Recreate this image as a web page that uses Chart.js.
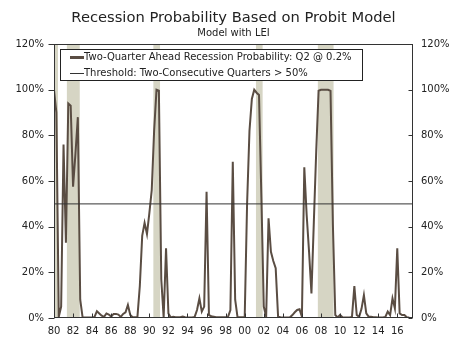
<!DOCTYPE html>
<html>
<head>
<meta charset="utf-8">
<script src="https://cdn.jsdelivr.net/npm/chart.js@4.4.1/dist/chart.umd.min.js"></script>
<style>
  html, body { margin: 0; padding: 0; background: #fff; }
  #chart { display: block; }
</style>
</head>
<body>
<canvas id="chart" width="450" height="337"></canvas>
<script>
  "use strict";

  // ---- Data ----------------------------------------------------------
  //
  // Quarterly recession probability (%), 1980Q1 .. 2017Q2.

  const firstYear = 1980;
  const probability = [
    100, 90, 0.5, 5,        // 1980
    76, 33, 94, 93,         // 1981
    57.5, 72, 88, 8,        // 1982
    0.3, 0.2, 0.2, 0.2,     // 1983
    0.2, 0.5, 3, 2,         // 1984
    1, 0.5, 2, 1.5,         // 1985
    0.6, 1.8, 1.8, 1.5,     // 1986
    0.5, 1.8, 2.5, 5.7,     // 1987
    1.3, 0.3, 0.3, 0.5,     // 1988
    14, 36, 41.7, 36.8,     // 1989
    46, 56, 82, 100,        // 1990
    99.6, 17, 0.3, 30.5,    // 1991
    2, 0.2, 0.5, 0.3,       // 1992
    0.3, 0.3, 0.6, 0.3,     // 1993
    0.2, 0.2, 0.2, 0.5,     // 1994
    3.5, 8.6, 2.8, 5,       // 1995
    55.3, 1.3, 0.8, 0.6,    // 1996
    0.3, 0.3, 0.3, 0.3,     // 1997
    0.3, 0.5, 3.5, 68.5,    // 1998
    8, 0.3, 0.3, 0.3,       // 1999
    0.3, 50, 82, 96,        // 2000
    100, 98.7, 97.7, 53,    // 2001
    5, 0.6, 43.7, 29,       // 2002
    25, 21.8, 0.6, 0.3,     // 2003
    0.2, 0.2, 0.2, 0.3,     // 2004
    1.3, 2.5, 3.5, 3.8,     // 2005
    0.6, 66, 45, 29,        // 2006
    10.8, 42, 73, 99.6,     // 2007
    100, 100, 100, 100,     // 2008
    99.5, 40.6, 1.3, 0.2,   // 2009
    1.3, 0.3, 0.2, 0.2,     // 2010
    0.2, 0.5, 14, 1.3,      // 2011
    0.5, 4, 10, 2,          // 2012
    0.6, 0.6, 0.3, 0.3,     // 2013
    0.2, 0.2, 0.2, 0.5,     // 2014
    2.8, 1.3, 8.6, 4.2,     // 2015
    30.5, 2, 1.3, 1.3,      // 2016
    0.3, 0.2,               // 2017
  ];

  const thresholdPct = 50;

  // Shaded recession periods, [start, end] in decimal years.
  const recessions = [
    [1980.0, 1980.42],
    [1981.35, 1982.7],
    [1990.42, 1991.12],
    [2001.18, 2001.88],
    [2007.67, 2009.32],
  ];

  const xTickYears = [1980, 1982, 1984, 1986, 1988, 1990, 1992, 1994, 1996, 1998,
                      2000, 2002, 2004, 2006, 2008, 2010, 2012, 2014, 2016];
  const yTickValues = [0, 20, 40, 60, 80, 100, 120];

  const seriesLabel = 'Two-Quarter Ahead Recession Probability: Q2 @ 0.2%';
  const thresholdLabel = 'Threshold: Two-Consecutive Quarters > 50%';
  const titleText = 'Recession Probability Based on Probit Model';
  const subtitleText = 'Model with LEI';

  // ---- Styling --------------------------------------------------------

  const X_MIN = 1980;
  const X_MAX = 2017.65;
  const FONT = '"DejaVu Sans", Verdana, sans-serif';
  const TEXT = '#222';
  const AXIS = '#333';
  const LINE = '#5a4d43';
  const SHADE = '#d6d5c4';

  // ---- Plugins ----------------------------------------------------------

  // Grey bands behind the data for each recession.
  const recessionBands = {
    id: 'recessionBands',
    beforeDatasetsDraw(chart) {
      const { ctx, chartArea: a, scales: { x } } = chart;
      ctx.save();
      ctx.fillStyle = SHADE;
      for (const [s, e] of recessions) {
        const x0 = x.getPixelForValue(s);
        const x1 = x.getPixelForValue(e);
        ctx.fillRect(x0, a.top, x1 - x0, a.bottom - a.top);
      }
      ctx.restore();
    },
  };

  // Box round the plot + the small tick marks (left ticks outside,
  // right and bottom ticks inside, as in the original).
  const frameAndTicks = {
    id: 'frameAndTicks',
    afterDatasetsDraw(chart) {
      const { ctx, chartArea: a, scales } = chart;
      const L = Math.round(a.left) + 0.5, R = Math.round(a.right) - 0.5;
      const T = Math.round(a.top) + 0.5, B = Math.round(a.bottom) - 0.5;
      ctx.save();
      ctx.strokeStyle = AXIS;
      ctx.lineWidth = 1;
      ctx.strokeRect(L, T, R - L, B - T);
      ctx.beginPath();
      for (const v of yTickValues) {
        const y = Math.round(scales.y.getPixelForValue(v)) + 0.5;
        ctx.moveTo(L - 6, y); ctx.lineTo(L, y);
        ctx.moveTo(R - 4, y); ctx.lineTo(R, y);
      }
      for (const v of xTickYears) {
        const x = Math.round(scales.x.getPixelForValue(v)) + 0.5;
        ctx.moveTo(x, B); ctx.lineTo(x, B - 4);
      }
      ctx.stroke();
      ctx.restore();
    },
  };

  // Bordered legend box inside the plot, top-left.
  const boxLegend = {
    id: 'boxLegend',
    afterDraw(chart) {
      const { ctx } = chart;
      const ds = chart.data.datasets;
      const box = { x: 60.5, y: 49.5, w: 302, h: 31 };
      ctx.save();
      ctx.fillStyle = '#fff';
      ctx.fillRect(box.x, box.y, box.w, box.h);
      ctx.strokeStyle = '#222';
      ctx.lineWidth = 1;
      ctx.strokeRect(box.x, box.y, box.w, box.h);
      ctx.font = '10px ' + FONT;
      ctx.textBaseline = 'middle';
      ctx.fillStyle = TEXT;
      ds.forEach((d, i) => {
        const y = 57.5 + i * 16;
        ctx.strokeStyle = d.borderColor;
        ctx.lineWidth = i === 0 ? 3 : 1;
        ctx.beginPath();
        ctx.moveTo(70, y);
        ctx.lineTo(84, y);
        ctx.stroke();
        ctx.fillText(d.label, 84, y);
      });
      ctx.restore();
    },
  };

  // ---- Chart ----------------------------------------------------------

  const points = probability.map((v, i) => ({ x: firstYear + i / 4, y: v }));

  function valueAxis(position, width, pad) {
    return {
      type: 'linear',
      position,
      min: 0,
      max: 120,
      afterBuildTicks: (s) => { s.ticks = yTickValues.map((value) => ({ value })); },
      afterFit: (s) => { s.width = width; },
      ticks: {
        callback: (v) => v + '%',
        padding: pad,
        color: TEXT,
        font: { family: FONT, size: 10 },
      },
      grid: { display: false, drawTicks: false },
      border: { display: false },
    };
  }

  new Chart(document.getElementById('chart'), {
    type: 'line',
    data: {
      datasets: [
        { label: seriesLabel, data: points, borderColor: LINE, borderWidth: 2,
          pointRadius: 0, tension: 0, yAxisID: 'y', order: 2 },
        { label: thresholdLabel,
          data: [{ x: X_MIN, y: thresholdPct }, { x: X_MAX, y: thresholdPct }],
          borderColor: '#333', borderWidth: 1, pointRadius: 0, yAxisID: 'y', order: 1 },
      ],
    },
    options: {
      responsive: false,
      animation: false,
      layout: { padding: 0 },
      plugins: {
        legend: { display: false },
        tooltip: { enabled: false },
        title: {
          display: true, text: titleText, fullSize: false, color: TEXT,
          font: { family: FONT, size: 14.7, weight: 'normal' },
          padding: { top: 9.5, bottom: 0 },
        },
        subtitle: {
          display: true, text: subtitleText, fullSize: false, color: TEXT,
          font: { family: FONT, size: 10, weight: 'normal' },
          padding: { top: 0, bottom: 5 },
        },
      },
      scales: {
        x: {
          type: 'linear',
          min: X_MIN,
          max: X_MAX,
          afterBuildTicks: (s) => { s.ticks = xTickYears.map((value) => ({ value })); },
          afterFit: (s) => { s.height = 19; },
          ticks: {
            autoSkip: false,
            maxRotation: 0,
            padding: 7,
            color: TEXT,
            font: { family: FONT, size: 10 },
            callback: (v) => String(v).slice(2),
          },
          grid: { display: false, drawTicks: false },
          border: { display: false },
        },
        y: valueAxis('left', 54, 10),
        y2: valueAxis('right', 37, 8),
      },
    },
    plugins: [recessionBands, frameAndTicks, boxLegend],
  });
</script>
</body>
</html>
